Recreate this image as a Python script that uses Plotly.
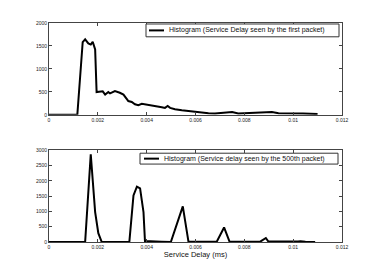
import plotly.graph_objects as go
from plotly.subplots import make_subplots

# ---- data ----
delay_first = [0, 0.00116, 0.00138, 0.00148, 0.00161, 0.00171, 0.00179, 0.00189, 0.00195,
               0.00209, 0.0022, 0.0023, 0.00243, 0.0025, 0.0027, 0.0029, 0.00305, 0.00325,
               0.00339, 0.00352, 0.00366, 0.0038, 0.004, 0.0042, 0.00441, 0.00462, 0.00475,
               0.00486, 0.00496, 0.00516, 0.00544, 0.00571, 0.00598, 0.00626, 0.00653, 0.0068,
               0.007, 0.0075, 0.00775, 0.0084, 0.00913, 0.0094, 0.01, 0.0104, 0.011]
count_first = [0, 0, 1585, 1645, 1555, 1530, 1590, 1425, 495,
               500, 510, 440, 495, 465, 515, 480, 440, 300,
               280, 230, 210, 240, 225, 210, 195, 165, 150,
               190, 150, 122, 100, 80, 72, 45, 35, 30,
               40, 60, 30, 40, 60, 35, 35, 25, 15]

delay_500 = [0, 0.00148, 0.00171, 0.00182, 0.00189, 0.00202, 0.00216, 0.00329, 0.00346, 0.0036,
             0.00373, 0.00387, 0.00393, 0.0046, 0.00499, 0.00548, 0.00571, 0.00687, 0.00717,
             0.00739, 0.00865, 0.00888, 0.00898, 0.0102, 0.0103, 0.0105, 0.0109]
count_500 = [0, 0, 2870, 1700, 980, 290, 0, 0, 1520, 1810,
             1750, 980, 30, 10, 0, 1165, 20, 10, 475,
             20, 10, 130, 20, 15, 25, 10, 0]

x_ticks = [0, 0.002, 0.004, 0.006, 0.008, 0.01, 0.012]
x_tick_text = ["0", "0.002", "0.004", "0.006", "0.008", "0.01", "0.012"]
y_ticks_top = [0, 500, 1000, 1500, 2000]
y_ticks_bot = [0, 500, 1000, 1500, 2000, 2500, 3000]

legend_top = "Histogram (Service Delay seen by the first packet)"
legend_bot = "Histogram (Service delay seen by the 500th packet)"
x_title = "Service Delay (ms)"

OFF = 8  # page body margin
W, H = 377 - OFF, 273 - OFF
ML, MT = 49 - OFF, 20 - OFF
PW, PH = 293, 222
MR = W - ML - PW
MB = H - MT - PH
FONT = "Liberation Sans, Arial, Helvetica, sans-serif"

fig = make_subplots(rows=2, cols=1, vertical_spacing=0.162)

fig.add_trace(go.Scatter(x=delay_first, y=count_first, mode="lines",
                         line=dict(color="black", width=2), name=legend_top,
                         showlegend=False), row=1, col=1)
fig.add_trace(go.Scatter(x=delay_500, y=count_500, mode="lines",
                         line=dict(color="black", width=2), name=legend_bot,
                         showlegend=False), row=2, col=1)

axis_common = dict(showgrid=False, zeroline=False, showline=True, linecolor="#444",
                   linewidth=1, mirror="allticks", ticks="inside", ticklen=3,
                   tickcolor="#444", tickfont=dict(size=5, color="#222", family=FONT))

for r in (1, 2):
    fig.update_xaxes(range=[0, 0.012], tickvals=x_ticks, ticktext=x_tick_text,
                     row=r, col=1, **axis_common)
fig.update_yaxes(range=[0, 2000], tickvals=y_ticks_top, row=1, col=1, **axis_common)
fig.update_yaxes(range=[0, 3000], tickvals=y_ticks_bot, row=2, col=1, **axis_common)

fig.update_layout(yaxis=dict(domain=[0.581, 1.0]), yaxis2=dict(domain=[0.0, 0.419]))
fig.update_xaxes(title=dict(text=x_title, font=dict(size=7.5, family=FONT, color="#111"),
                            standoff=2), row=2, col=1)


def px_to_paper_x(px):
    return (px - OFF - ML) / PW


def px_to_paper_y(py):
    return (H - MB - (py - OFF)) / PH


# legend boxes (drawn as shapes + annotations); coordinates in window pixels
legends = [
    (legend_top, 146, 339, 21, 34, 149, 164, 167),
    (legend_bot, 140, 338, 152, 163, 144, 159, 161.5),
]
for text, x0, x1, y0, y1, lx0, lx1, tx in legends:
    fig.add_shape(type="rect", xref="paper", yref="paper",
                  x0=px_to_paper_x(x0), x1=px_to_paper_x(x1),
                  y0=px_to_paper_y(y1), y1=px_to_paper_y(y0),
                  line=dict(color="#333", width=1), fillcolor="white", layer="above")
    ym = (y0 + y1) / 2
    fig.add_shape(type="line", xref="paper", yref="paper",
                  x0=px_to_paper_x(lx0), x1=px_to_paper_x(lx1),
                  y0=px_to_paper_y(ym), y1=px_to_paper_y(ym),
                  line=dict(color="black", width=2), layer="above")
    fig.add_annotation(xref="paper", yref="paper", x=px_to_paper_x(tx), y=px_to_paper_y(ym),
                       xanchor="left", yanchor="middle", text=text, showarrow=False,
                       font=dict(size=7, family=FONT, color="#111"))

fig.update_layout(width=W, height=H, margin=dict(l=ML, r=MR, t=MT, b=MB),
                  paper_bgcolor="white", plot_bgcolor="white", showlegend=False)

fig.write_html("out.html")
